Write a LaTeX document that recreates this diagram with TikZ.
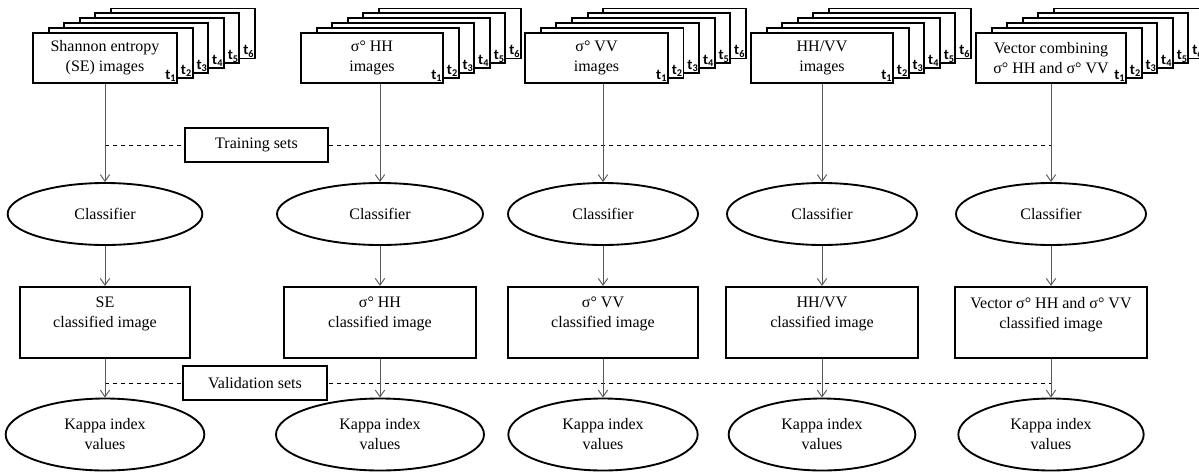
\documentclass[tikz,border=0pt]{standalone}
\usepackage{fontspec}
\setmainfont{Liberation Serif}
\newfontfamily\tfont{Carlito}
\usetikzlibrary{arrows.meta,shapes.geometric}

\tikzset{
  box/.style={draw, line width=1.4pt, fill=white, align=center, inner sep=1pt},
  oval/.style={ellipse, draw, line width=1.4pt, align=center, inner sep=1pt},
  flow/.style={draw=black!65, line width=0.7pt, -{Straight Barb[length=5pt,width=7pt]}},
  setline/.style={dashed, line width=0.7pt},
  tlab/.style={font=\tfont\bfseries\fontsize{11}{11}\selectfont, inner sep=0pt, anchor=south east},
}

\begin{document}
\begin{tikzpicture}[x=0.75pt, y=-0.75pt, font=\fontsize{12}{15}\selectfont]
  \clip (0,0) rectangle (1199,472);

  % image stacks t1..t6
  \foreach \n/\x/\w/\txt in {se/105/108/{Shannon entropy\\(SE) images},
                             hh/372/106.5/{σ° HH\\images},
                             vv/596.5/107/{σ° VV\\images},
                             hv/822/106.5/{HH/VV\\images},
                             vec/1051/112.5/{Vector combining\\σ° HH and σ° VV}} {
    \foreach \k in {6,...,2} {
      \node[box, minimum width=\w pt, minimum height=37.5pt] (\n\k)
        at ({\x+(\k-1)*15.6},{58-(\k-1)*4.9}) {};
      \node[tlab] (\n t\k) at ([xshift=-1pt,yshift=1.5pt]\n\k.south east) {t\textsubscript{\k}};
    }
    \node[box, minimum width=\w pt, minimum height=37.5pt] (\n1) at (\x,58) {\txt};
    \node[tlab] (\n t1) at ([xshift=-1pt,yshift=1.5pt]\n1.south east) {t\textsubscript{1}};
  }

  % classifiers
  \node[oval, minimum width=146pt, minimum height=46.5pt] (cls1) at (105,214) {Classifier};
  \node[oval, minimum width=154.5pt, minimum height=46.5pt] (cls2) at (380,214) {Classifier};
  \node[oval, minimum width=142.5pt, minimum height=46.5pt] (cls3) at (603,214) {Classifier};
  \node[oval, minimum width=142.5pt, minimum height=46.5pt] (cls4) at (822,214) {Classifier};
  \node[oval, minimum width=142.5pt, minimum height=46.5pt] (cls5) at (1051,214) {Classifier};

  % classified images
  \node[box, minimum width=127.5pt, minimum height=53.5pt] (img1) at (105,322.5) {SE\\classified image\\~};
  \node[box, minimum width=144pt, minimum height=53.5pt] (img2) at (380,322.5) {σ° HH\\classified image\\~};
  \node[box, minimum width=143pt, minimum height=53.5pt] (img3) at (603,322.5) {σ° VV\\classified image\\~};
  \node[box, minimum width=144pt, minimum height=53.5pt] (img4) at (822,322.5) {HH/VV\\classified image\\~};
  \node[box, minimum width=144pt, minimum height=53.5pt] (img5) at (1051,322.5) {Vector σ° HH and σ° VV\\classified image\\~};

  % kappa values
  \node[oval, minimum width=149pt, minimum height=54pt] (kap1) at (105,434.5) {Kappa index\\values};
  \node[oval, minimum width=156pt, minimum height=54pt] (kap2) at (380,434.5) {Kappa index\\values};
  \node[oval, minimum width=142pt, minimum height=54pt] (kap3) at (603,434.5) {Kappa index\\values};
  \node[oval, minimum width=140pt, minimum height=54pt] (kap4) at (822,434.5) {Kappa index\\values};
  \node[oval, minimum width=139pt, minimum height=54pt] (kap5) at (1051,434.5) {Kappa index\\values};

  % training / validation sets
  \coordinate (trL) at (105,145);
  \coordinate (trR) at (1051,145);
  \coordinate (vaL) at (105,383);
  \coordinate (vaR) at (1051,383);
  \draw[setline] (trL) -- (trR);
  \draw[setline] (vaL) -- (vaR);
  \node[box, minimum width=107pt, minimum height=26pt] (train) at (256.5,145) {Training sets};
  \node[box, minimum width=108pt, minimum height=25pt] (valid) at (255,383) {Validation sets};

  \draw[flow] (se1.south -| cls1.north) -- (cls1.north);
  \draw[flow] (hh1.south -| cls2.north) -- (cls2.north);
  \draw[flow] (vv1.south -| cls3.north) -- (cls3.north);
  \draw[flow] (hv1.south -| cls4.north) -- (cls4.north);
  \draw[flow] (vec1.south -| cls5.north) -- (cls5.north);
  \foreach \i in {1,...,5} {
    \draw[flow] (cls\i) -- (img\i);
    \draw[flow] (img\i) -- (kap\i);
  }
\end{tikzpicture}
\end{document}
